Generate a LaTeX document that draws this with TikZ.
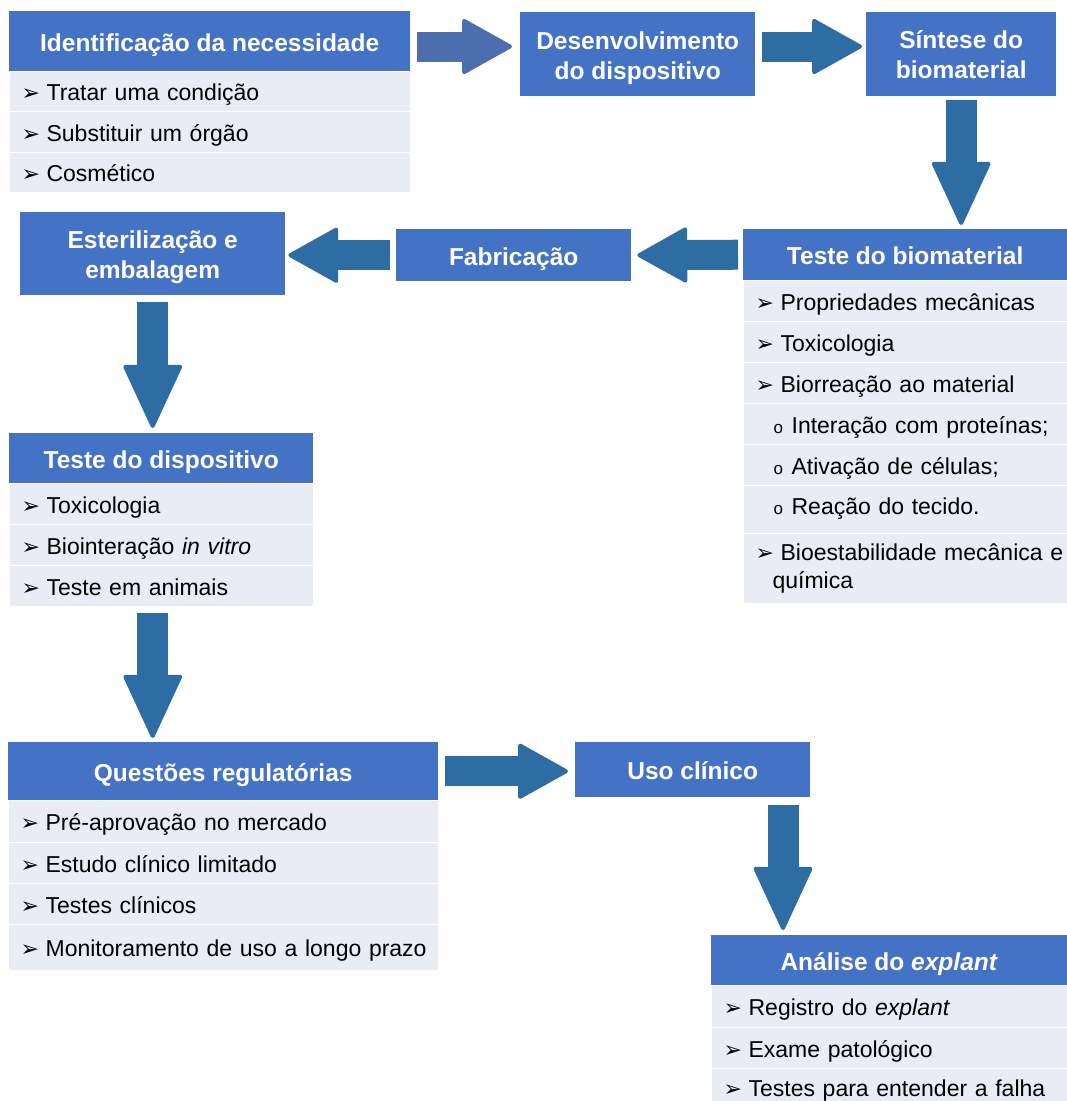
\documentclass[tikz,border=0pt]{standalone}
\usepackage{fontspec}
\setmainfont{Liberation Sans}
\newfontfamily\symfont{DejaVu Sans}
\usetikzlibrary{arrows.meta}
\definecolor{hdblue}{HTML}{4472C4}
\definecolor{arblue}{HTML}{2E6CA4}
\definecolor{arfirst}{HTML}{4C6EAE}
\definecolor{rowgray}{HTML}{E9EBF5}
\newcommand\bul{\hspace*{12pt}\makebox[25pt][l]{\symfont\fontsize{22}{22}\selectfont ➢}}
\newcommand\subbul{\hspace*{30pt}\makebox[18pt][l]{\fontsize{17}{17}\selectfont o}}
\newcommand\topstrut{\rule{0pt}{25pt}}
\tikzset{
  head/.style={fill=hdblue, text=white, anchor=north west, align=center,
    inner sep=0pt, text height=24pt, text depth=4pt,
    font=\fontsize{24.5}{30}\selectfont\bfseries},
  headtwo/.style={head, text height=, text depth=},
  item/.style={fill=rowgray, draw=white, line width=1.2pt, anchor=north west,
    align=left, inner sep=0pt, text height=23pt, text depth=5pt,
    font=\fontsize{23}{28}\selectfont},
  hbar/.style={draw=arblue, line width=30pt,
    -{Triangle[length=52pt, width=57pt, line width=4pt, round]}},
  vbar/.style={draw=arblue, line width=31pt,
    -{Triangle[length=66pt, width=60pt, line width=4pt, round]}},
}
\begin{document}
\begin{tikzpicture}[x=1pt, y=-1pt]
  \useasboundingbox (0,0) rectangle (1067,1101);
  \coordinate (toprow) at (0,46.5);
  \coordinate (usoar) at (783,0);
  % Identificacao da necessidade
  \node[head, minimum width=401pt, minimum height=60pt] (need) at (9,11) {Identificação da necessidade};
  \foreach \y/\h/\t [count=\i] in {71/40/{\bul Tratar uma condição}, 111/41/{\bul Substituir um órgão},
      152/40/{\bul Cosmético}}
    \node[item, text width=401pt, minimum height=\h pt] (need-\i) at (9,\y) {\t};
  % top row
  \node[headtwo, minimum width=235pt, minimum height=84pt] (dev) at (520,12) {\topstrut Desenvolvimento\\do dispositivo};
  \node[headtwo, minimum width=190pt, minimum height=84pt] (syn) at (866,12) {Síntese do\\biomaterial};
  % Teste do biomaterial
  \node[head, minimum width=324pt, minimum height=51pt] (bio) at (743,229) {Teste do biomaterial};
  \foreach \y/\h/\t [count=\i] in {280/41/{\bul Propriedades mecânicas}, 321/41/{\bul Toxicologia},
      362/41/{\bul Biorreação ao material}, 403/41/{\subbul Interação com proteínas;},
      444/41/{\subbul Ativação de células;}}
    \node[item, text width=324pt, minimum height=\h pt] (bio-\i) at (743,\y) {\t};
  \node[item, text width=324pt, minimum height=48pt, text depth=14pt] (bio-6) at (743,485)
    {\subbul Reação do tecido.};
  \node[item, text width=324pt, minimum height=70pt, text height=, text depth=] (bio-7) at (743,533)
    {\bul Bioestabilidade mecânica e\\\hspace*{29pt}química};
  % second row
  \node[head, minimum width=235pt, minimum height=52pt] (fab) at (396,229) {Fabricação};
  \node[headtwo, minimum width=265pt, minimum height=83pt] (est) at (20,212) {\topstrut Esterilização e\\embalagem};
  % Teste do dispositivo
  \node[head, minimum width=304pt, minimum height=50pt] (td) at (9,433) {Teste do dispositivo};
  \foreach \y/\h/\t [count=\i] in {483/41/{\bul Toxicologia}, 524/41/{\bul Biointeração \textit{in vitro}},
      565/41/{\bul Teste em animais}}
    \node[item, text width=304pt, minimum height=\h pt] (td-\i) at (9,\y) {\t};
  % Questoes regulatorias
  \node[head, minimum width=430pt, minimum height=58pt] (reg) at (8,742) {Questões regulatórias};
  \foreach \y/\h/\t [count=\i] in {800/42/{\bul Pré-aprovação no mercado}, 842/41/{\bul Estudo clínico limitado},
      883/41/{\bul Testes clínicos}, 924/46/{\bul Monitoramento de uso a longo prazo}}
    \node[item, text width=430pt, minimum height=\h pt] (reg-\i) at (8,\y) {\t};
  \node[head, minimum width=235pt, minimum height=55pt] (uso) at (575,742) {Uso clínico};
  % Analise do explant
  \node[head, minimum width=356pt, minimum height=50pt] (exp) at (711,935) {Análise do \textit{explant}};
  \foreach \y/\h/\t [count=\i] in {985/42/{\bul Registro do \textit{explant}}, 1027/41/{\bul Exame patológico},
      1068/37/{\bul Testes para entender a falha}}
    \node[item, text width=356pt, minimum height=\h pt] (exp-\i) at (711,\y) {\t};
  % arrows
  \draw[hbar, draw=arfirst, shorten <=7pt, shorten >=8pt] (need.east |- toprow) -- (dev.west |- toprow);
  \draw[hbar, shorten <=7pt, shorten >=4pt] (dev.east |- toprow) -- (syn.west |- toprow);
  \draw[vbar, shorten <=4pt, shorten >=4pt] (syn.south) -- (syn.south |- bio.north);
  \draw[hbar, shorten <=5pt, shorten >=6pt] (bio.west) -- (fab.east);
  \draw[hbar, shorten <=6pt, shorten >=3pt] (fab.west) -- (fab.west -| est.east);
  \draw[vbar, shorten <=7pt, shorten >=5pt] (est.south) -- (est.south |- td.north);
  \draw[vbar, shorten <=6pt, shorten >=4pt] (td-3.south -| est.south) -- (est.south |- reg.north);
  \draw[hbar, shorten <=7pt, shorten >=7pt] (reg.east) -- (reg.east -| uso.west);
  \draw[vbar, shorten <=8pt, shorten >=5pt] (usoar |- uso.south) -- (usoar |- exp.north);
\end{tikzpicture}
\end{document}
